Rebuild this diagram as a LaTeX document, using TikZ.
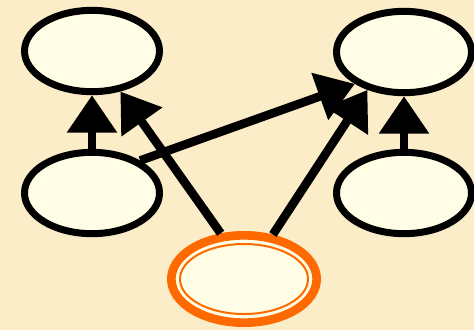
\documentclass[tikz,border=0pt]{standalone}
\usetikzlibrary{arrows.meta,shapes.geometric}
\definecolor{bgc}{HTML}{FAEDC8}
\definecolor{fillc}{HTML}{FFFDE6}
\definecolor{orng}{HTML}{FF6A00}
\begin{document}
\begin{tikzpicture}[x=0.75pt,y=-0.75pt,
  oval/.style={ellipse,draw=black,fill=fillc,line width=5.25pt,inner sep=0pt,minimum width=101.25pt,minimum height=61pt},
  hoval/.style={ellipse,draw=orng,fill=fillc,line width=6.5pt,inner sep=0pt,minimum width=109pt,minimum height=65.5pt},
  arr/.style={line width=6.5pt,-{Triangle[length=28pt,width=36pt]}}]
\useasboundingbox (0,0) rectangle (474,330);
\fill[bgc] (0,0) rectangle (474,330);
\node[oval] (tl) at (92,51) {};
\node[oval] (tr) at (404,52) {};
\node[oval] (bl) at (92,193) {};
\node[oval] (br) at (404,193) {};
\node[hoval] (b) at (244,279) {};
\draw[orng,line width=1.5pt] (b.center) ellipse [x radius=64, y radius=35];
\draw[arr] (bl.north) -- (tl.south);
\draw[arr] (br.north) -- (tr.south);
\draw[arr] (bl.34) -- (tr.213);
\draw[arr] (b.117) -- (tl.-55);
\draw[arr] (b.57) -- (tr.226);
\end{tikzpicture}
\end{document}
